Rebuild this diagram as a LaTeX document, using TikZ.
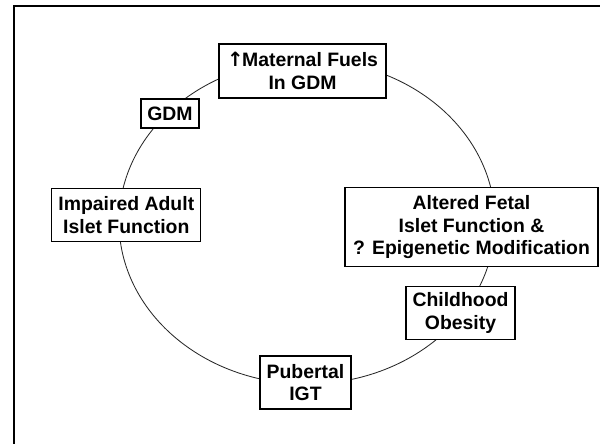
\documentclass[tikz,border=0pt]{standalone}
\usepackage{fontspec}
\usetikzlibrary{positioning}
\newfontfamily\cyclefont{Liberation Sans}
\newfontfamily\arrowfont{DejaVu Sans}
\definecolor{colBorder}{RGB}{0,0,0}
\definecolor{colRing}{RGB}{40,40,40}
\tikzset{
  stageBox/.style={
    rectangle, draw=colBorder, line width=0.8pt, fill=white,
    inner sep=0pt, align=center,
    font=\cyclefont\bfseries\fontsize{13.8}{16.2}\selectfont
  },
  ring/.style={draw=colRing, line width=0.6pt},
  frame/.style={draw=black, line width=1.8pt}
}

\begin{document}
\begin{tikzpicture}[x=0.025cm, y=-0.025cm]

  \useasboundingbox (0,0) rectangle (600,444);

  % slide frame, cut off at right and bottom
  \coordinate (frameBL) at (14,444);
  \coordinate (frameTL) at (14,6);
  \coordinate (frameTR) at (600,6);
  \draw[frame] (frameBL) -- (frameTL) -- (frameTR);

  % the cycle
  \draw[ring] (307,222) ellipse [x radius=188, y radius=162];

  \node[stageBox, minimum width=4.175cm, minimum height=1.35cm] (fuels) at (302.5,71) {{\arrowfont\bfseries\fontsize{14}{16.2}\selectfont↑}\kern-1pt Maternal Fuels\\In GDM};
  \node[stageBox, minimum width=6.325cm, minimum height=1.975cm] (fetal) at (471.5,227.2) {Altered Fetal\\Islet Function \&\\? Epigenetic Modification};
  \node[stageBox, minimum width=2.725cm, minimum height=1.325cm] (obesity) at (460.5,313.3) {Childhood\\Obesity};
  \node[stageBox, minimum width=2.275cm, minimum height=1.325cm] (igt) at (305.5,382.5) {Pubertal\\IGT};
  \node[stageBox, minimum width=3.725cm, minimum height=1.325cm] (impaired) at (126.3,215.2) {Impaired Adult\\Islet Function};
  \node[stageBox, minimum width=1.45cm, minimum height=0.725cm] (gdm) at (170,113.5) {GDM};

\end{tikzpicture}
\end{document}
